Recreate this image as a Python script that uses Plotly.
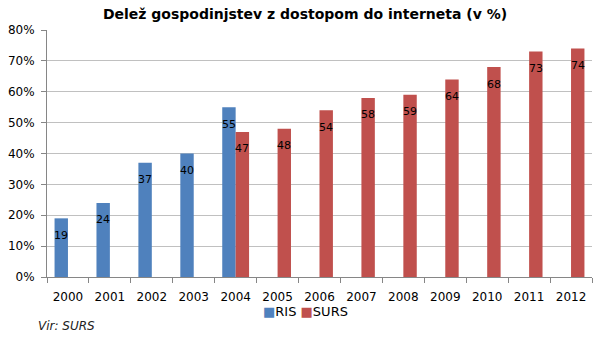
import plotly.graph_objects as go

years = ["2000", "2001", "2002", "2003", "2004", "2005", "2006", "2007",
         "2008", "2009", "2010", "2011", "2012"]
series_names = ["RIS", "SURS"]
ris = [19, 24, 37, 40, 55, None, None, None, None, None, None, None, None]
surs = [None, None, None, None, 47, 48, 54, 58, 59, 64, 68, 73, 74]
ytick_vals = [0, 10, 20, 30, 40, 50, 60, 70, 80]
ytick_text = ["0%", "10%", "20%", "30%", "40%", "50%", "60%", "70%", "80%"]

BLUE = "#4F81BD"
RED = "#C0504D"
FONT = "DejaVu Sans"

fig = go.Figure()
fig.add_trace(go.Bar(name=series_names[0], x=years, y=ris, marker_color=BLUE,
                     marker_line_width=0))
fig.add_trace(go.Bar(name=series_names[1], x=years, y=surs, marker_color=RED,
                     marker_line_width=0))

annotations = []
for series, shift in ((ris, -6.8), (surs, 6.8)):
    for i, v in enumerate(series):
        if v is None:
            continue
        annotations.append(dict(x=i, y=v, text=str(v), showarrow=False,
                                xshift=shift, yshift=-17, yanchor="middle",
                                font=dict(family=FONT, size=11, color="black")))

# compact legend (Excel style)
legend_text = (f"<span style='color:{BLUE}'>■</span>{series_names[0]} "
               f"<span style='color:{RED}'>■</span>{series_names[1]}")
annotations.append(dict(text=legend_text, xref="paper", yref="paper",
                        x=0.474, y=-0.138, xanchor="center", yanchor="middle",
                        showarrow=False,
                        font=dict(family=FONT, size=13, color="black")))

annotations.append(dict(text="Vir: SURS", xref="paper", yref="paper",
                        x=-0.02, y=-0.198, xanchor="left", yanchor="middle",
                        showarrow=False,
                        font=dict(family=FONT, size=12, color="#222", style="italic")))

fig.update_layout(
    width=604, height=340,
    margin=dict(l=47, r=12, t=30, b=63),
    paper_bgcolor="white", plot_bgcolor="white",
    barmode="group", bargap=0.36, bargroupgap=0,
    title=dict(text="<b>Delež gospodinjstev z dostopom do interneta (v %)</b>",
               x=0.505, xanchor="center", y=0.958, yanchor="middle",
               font=dict(family=FONT, size=14, color="black")),
    font=dict(family=FONT, size=11, color="black"),
    showlegend=False,
    annotations=annotations,
    xaxis=dict(type="category", range=[-0.5, len(years) - 0.5],
               showline=True, linecolor="#868686", automargin=False,
               ticks="outside", tickson="boundaries", ticklen=5,
               tickcolor="#868686", showgrid=False, tickangle=0,
               ticklabelstandoff=9,
               tickfont=dict(family=FONT, size=12, color="black")),
    yaxis=dict(range=[0, 80], tickvals=ytick_vals, ticktext=ytick_text,
               showline=True, linecolor="#868686", ticks="outside",
               ticklen=5, tickcolor="#868686", showgrid=True, automargin=False,
               gridcolor="#c0c0c0", gridwidth=1, zeroline=False,
               ticklabelstandoff=4,
               tickfont=dict(family=FONT, size=12, color="black")),
)

fig.write_html("out.html")
